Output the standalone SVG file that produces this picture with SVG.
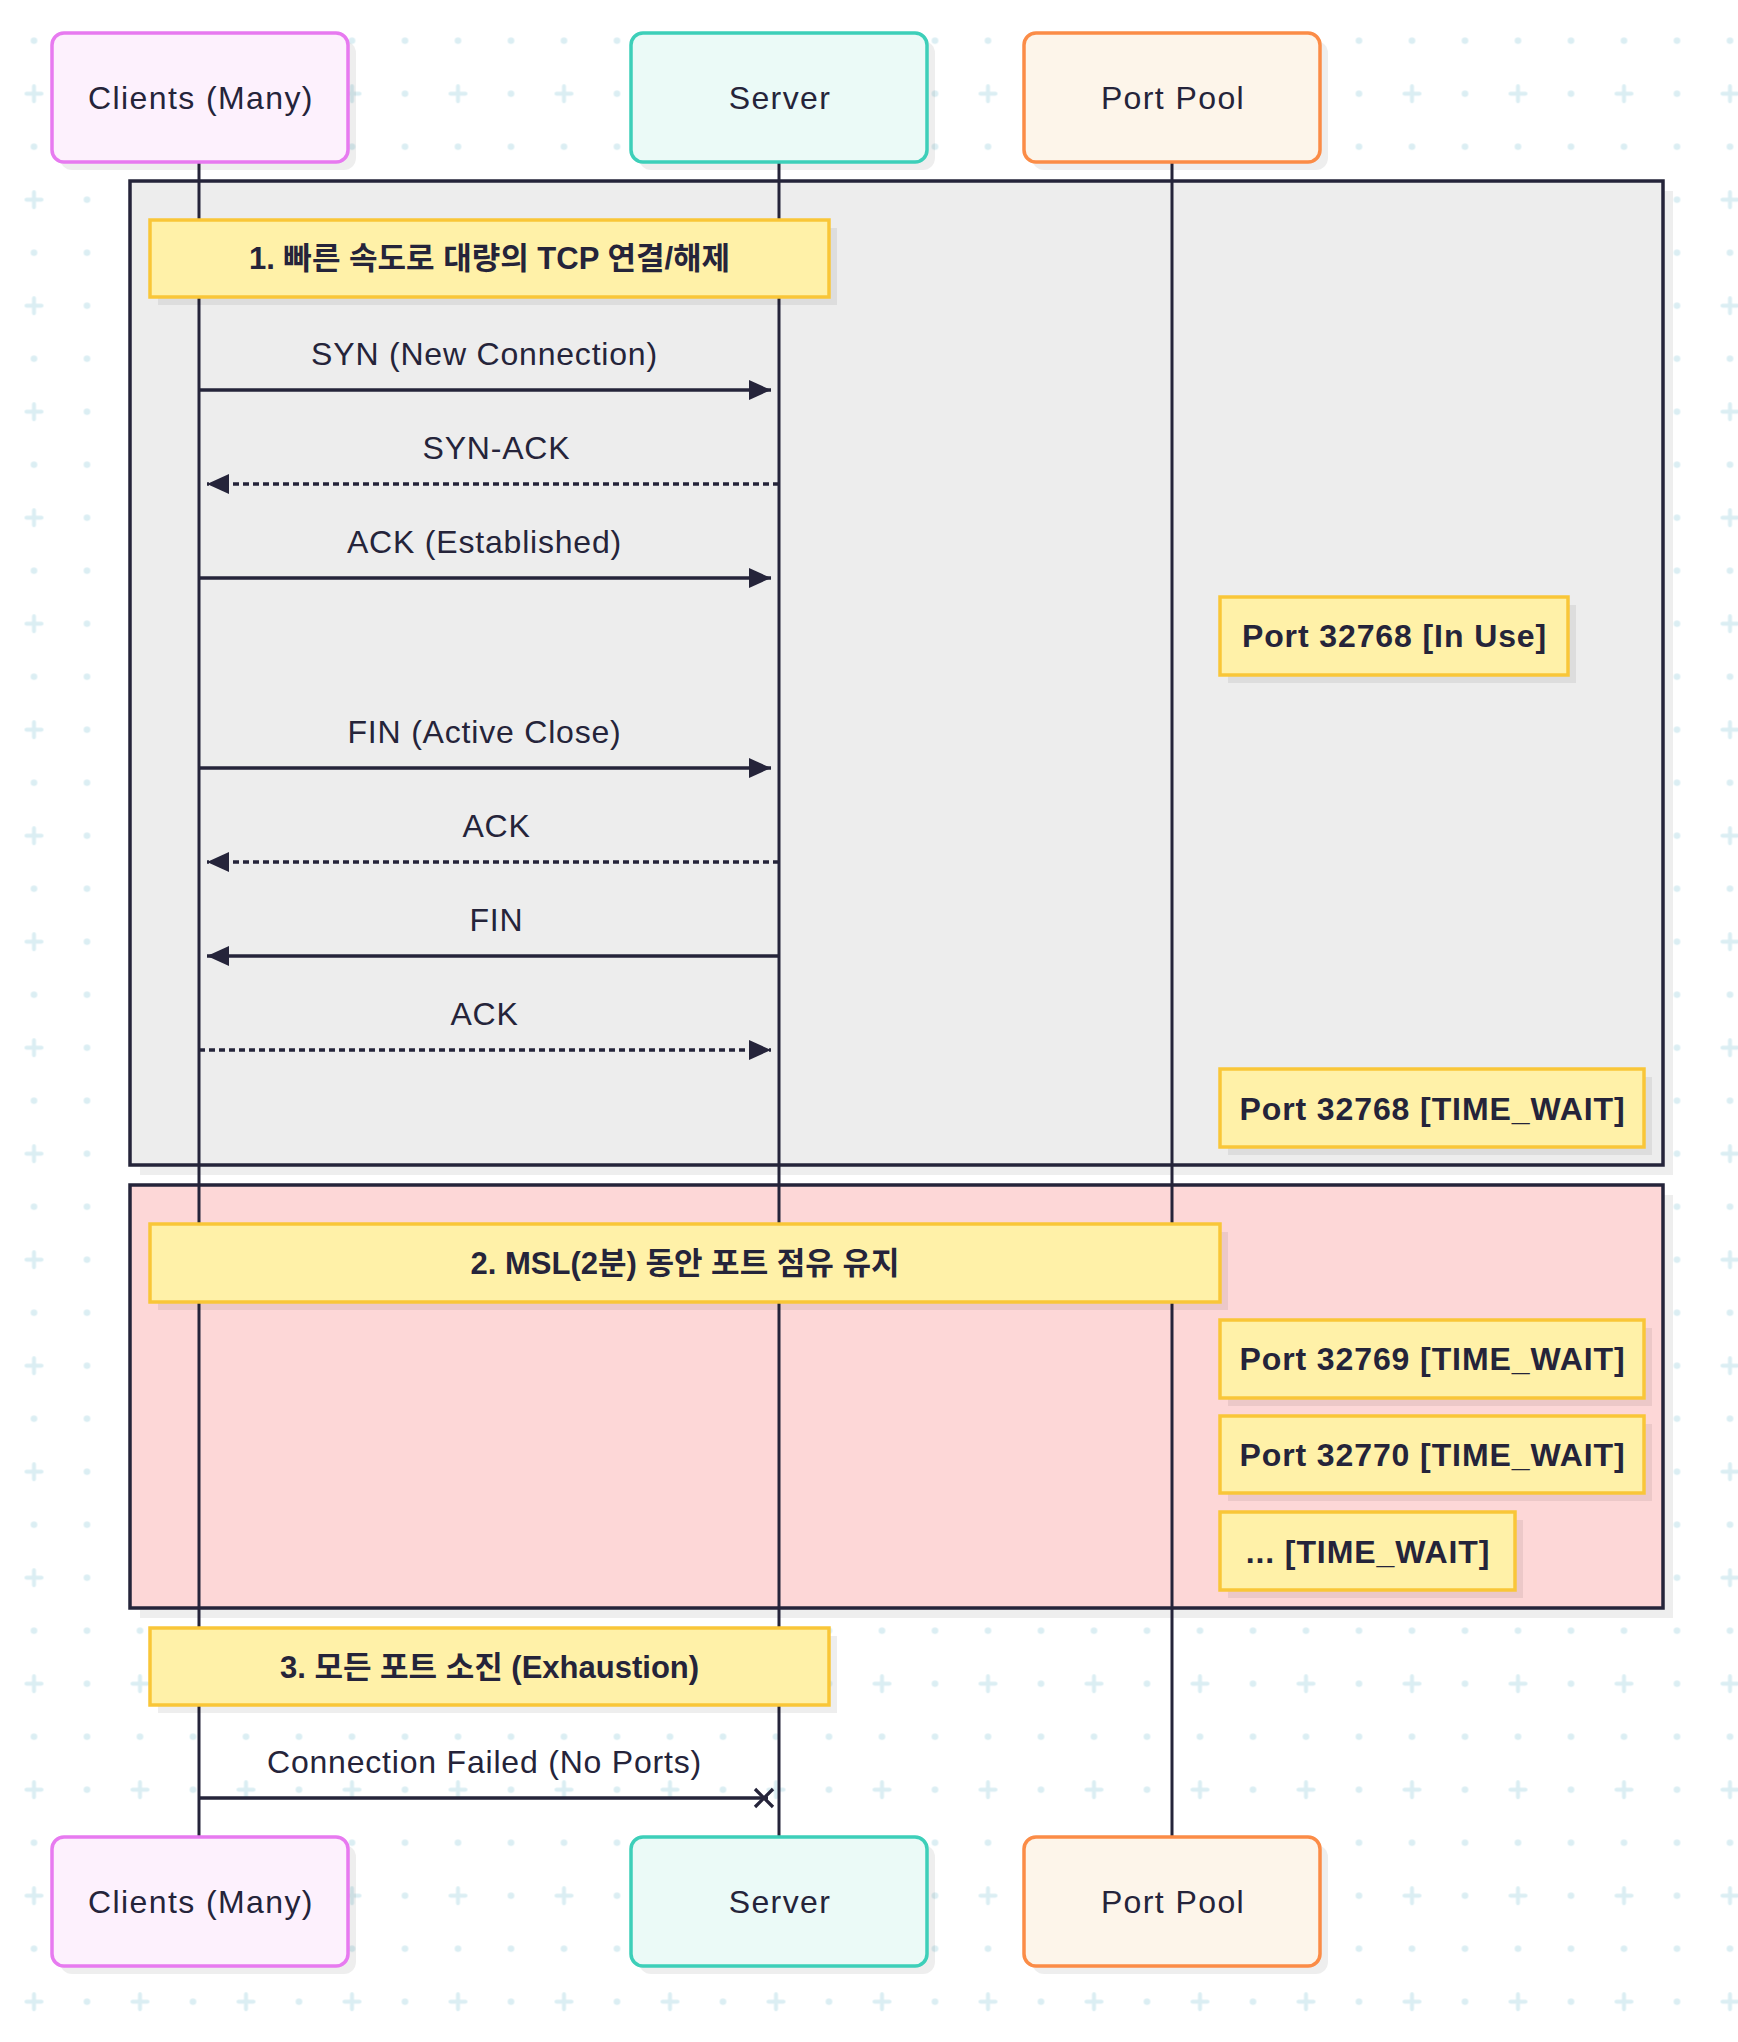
<svg xmlns="http://www.w3.org/2000/svg" width="1738" height="2042" viewBox="0 0 1738 2042">
<defs>
<pattern id="bg" x="7.5" y="67.2" width="106" height="106" patternUnits="userSpaceOnUse">
<path d="M26.5 19v15M19 26.5h15" stroke="#dbeef3" stroke-width="4" stroke-linecap="round" fill="none"/>
<circle cx="79.5" cy="26.5" r="3.3" fill="#dbeef3"/>
<circle cx="26.5" cy="79.5" r="3.3" fill="#dbeef3"/>
<circle cx="79.5" cy="79.5" r="3.3" fill="#dbeef3"/>
</pattern>
<marker id="arrow" markerUnits="userSpaceOnUse" markerWidth="22" markerHeight="20" refX="22" refY="10" orient="auto">
<path d="M0 0L22 10L0 20z" fill="#25243a"/>
</marker>
</defs>
<style>
text{font-family:"Liberation Sans","Noto Sans CJK KR",sans-serif;fill:#25243a;text-anchor:middle}
.actor-t{font-size:32px;letter-spacing:1.4px}
.msg-t{font-size:32px;letter-spacing:0.8px}
.note-t{font-size:32px;font-weight:bold;letter-spacing:0.9px}
.note-k{font-size:31px;font-weight:bold}
.shadow{fill:#000;fill-opacity:0.065}
.actor{stroke-width:3.5}
.clients{fill:#fdf1fd;stroke:#e77af0}
.server{fill:#ebfaf7;stroke:#3dcfb9}
.pool{fill:#fdf5ea;stroke:#fb8c47}
.note{fill:#fff1a8;stroke:#f9c638;stroke-width:3.5}
.group{stroke:#25243a;stroke-width:3.5}
.life{stroke:#25243a;stroke-width:3}
.msg{stroke:#25243a;stroke-width:3.3;fill:none}
.dash{stroke-dasharray:6 4}
</style>
<rect width="1738" height="2042" fill="#ffffff"/>
<rect width="1738" height="2042" fill="url(#bg)"/>

<g id="group-1">
<rect class="shadow" x="140" y="191" width="1533" height="984"/>
<rect class="group" x="130" y="181" width="1533" height="984" fill="#ededed"/>
</g>
<g id="group-2">
<rect class="shadow" x="140" y="1195" width="1533" height="423"/>
<rect class="group" x="130" y="1185" width="1533" height="423" fill="#fdd7d7"/>
</g>

<g id="lifelines">
<line class="life" x1="199" y1="162" x2="199" y2="1837"/>
<line class="life" x1="779" y1="162" x2="779" y2="1837"/>
<line class="life" x1="1172" y1="162" x2="1172" y2="1837"/>
</g>

<g id="actor-clients-top">
<rect class="shadow" x="60" y="41" width="296" height="129" rx="12"/>
<rect class="actor clients" x="52" y="33" width="296" height="129" rx="12"/>
<text class="actor-t" x="201" y="109">Clients (Many)</text>
</g>
<g id="actor-server-top">
<rect class="shadow" x="639" y="41" width="296" height="129" rx="12"/>
<rect class="actor server" x="631" y="33" width="296" height="129" rx="12"/>
<text class="actor-t" x="780" y="109">Server</text>
</g>
<g id="actor-pool-top">
<rect class="shadow" x="1032" y="41" width="296" height="129" rx="12"/>
<rect class="actor pool" x="1024" y="33" width="296" height="129" rx="12"/>
<text class="actor-t" x="1173" y="109">Port Pool</text>
</g>

<g id="actor-clients-bottom">
<rect class="shadow" x="60" y="1845" width="296" height="129" rx="12"/>
<rect class="actor clients" x="52" y="1837" width="296" height="129" rx="12"/>
<text class="actor-t" x="201" y="1913">Clients (Many)</text>
</g>
<g id="actor-server-bottom">
<rect class="shadow" x="639" y="1845" width="296" height="129" rx="12"/>
<rect class="actor server" x="631" y="1837" width="296" height="129" rx="12"/>
<text class="actor-t" x="780" y="1913">Server</text>
</g>
<g id="actor-pool-bottom">
<rect class="shadow" x="1032" y="1845" width="296" height="129" rx="12"/>
<rect class="actor pool" x="1024" y="1837" width="296" height="129" rx="12"/>
<text class="actor-t" x="1173" y="1913">Port Pool</text>
</g>

<g id="note-1">
<rect class="shadow" x="158" y="228" width="679" height="77"/>
<rect class="note" x="150" y="220" width="679" height="77"/>
<text class="note-k" x="489.5" y="269">1. 빠른 속도로 대량의 TCP 연결/해제</text>
</g>
<g id="note-inuse">
<rect class="shadow" x="1228" y="605" width="348" height="78"/>
<rect class="note" x="1220" y="597" width="348" height="78"/>
<text class="note-t" x="1394.5" y="647">Port 32768 [In Use]</text>
</g>
<g id="note-tw-32768">
<rect class="shadow" x="1228" y="1077" width="424" height="78"/>
<rect class="note" x="1220" y="1069" width="424" height="78"/>
<text class="note-t" x="1432.5" y="1120">Port 32768 [TIME_WAIT]</text>
</g>
<g id="note-2">
<rect class="shadow" x="158" y="1232" width="1070" height="78"/>
<rect class="note" x="150" y="1224" width="1070" height="78"/>
<text class="note-k" x="685" y="1274">2. MSL(2분) 동안 포트 점유 유지</text>
</g>
<g id="note-tw-32769">
<rect class="shadow" x="1228" y="1328" width="424" height="78"/>
<rect class="note" x="1220" y="1320" width="424" height="78"/>
<text class="note-t" x="1432.5" y="1370">Port 32769 [TIME_WAIT]</text>
</g>
<g id="note-tw-32770">
<rect class="shadow" x="1228" y="1424" width="424" height="77"/>
<rect class="note" x="1220" y="1416" width="424" height="77"/>
<text class="note-t" x="1432.5" y="1466">Port 32770 [TIME_WAIT]</text>
</g>
<g id="note-tw-more">
<rect class="shadow" x="1228" y="1520" width="295" height="78"/>
<rect class="note" x="1220" y="1512" width="295" height="78"/>
<text class="note-t" x="1368" y="1563">... [TIME_WAIT]</text>
</g>
<g id="note-3">
<rect class="shadow" x="158" y="1636" width="679" height="77"/>
<rect class="note" x="150" y="1628" width="679" height="77"/>
<text class="note-k" x="489.5" y="1678">3. 모든 포트 소진 (Exhaustion)</text>
</g>

<g id="connectors">
<line class="msg" x1="199" y1="390" x2="771" y2="390" marker-end="url(#arrow)"/>
<text class="msg-t" x="484.5" y="365">SYN (New Connection)</text>
<line class="msg dash" x1="779" y1="484" x2="207" y2="484" marker-end="url(#arrow)"/>
<text class="msg-t" x="496.5" y="459">SYN-ACK</text>
<line class="msg" x1="199" y1="578" x2="771" y2="578" marker-end="url(#arrow)"/>
<text class="msg-t" x="484.5" y="553">ACK (Established)</text>
<line class="msg" x1="199" y1="768" x2="771" y2="768" marker-end="url(#arrow)"/>
<text class="msg-t" x="484.5" y="743">FIN (Active Close)</text>
<line class="msg dash" x1="779" y1="862" x2="207" y2="862" marker-end="url(#arrow)"/>
<text class="msg-t" x="496.5" y="837">ACK</text>
<line class="msg" x1="779" y1="956" x2="207" y2="956" marker-end="url(#arrow)"/>
<text class="msg-t" x="496.5" y="931">FIN</text>
<line class="msg dash" x1="199" y1="1050" x2="771" y2="1050" marker-end="url(#arrow)"/>
<text class="msg-t" x="484.5" y="1025">ACK</text>
<line class="msg" x1="199" y1="1798" x2="768" y2="1798"/>
<path class="msg" d="M755 1789L773 1807M773 1789L755 1807" stroke-width="4.5"/>
<text class="msg-t" x="484.5" y="1773">Connection Failed (No Ports)</text>
</g>
</svg>
